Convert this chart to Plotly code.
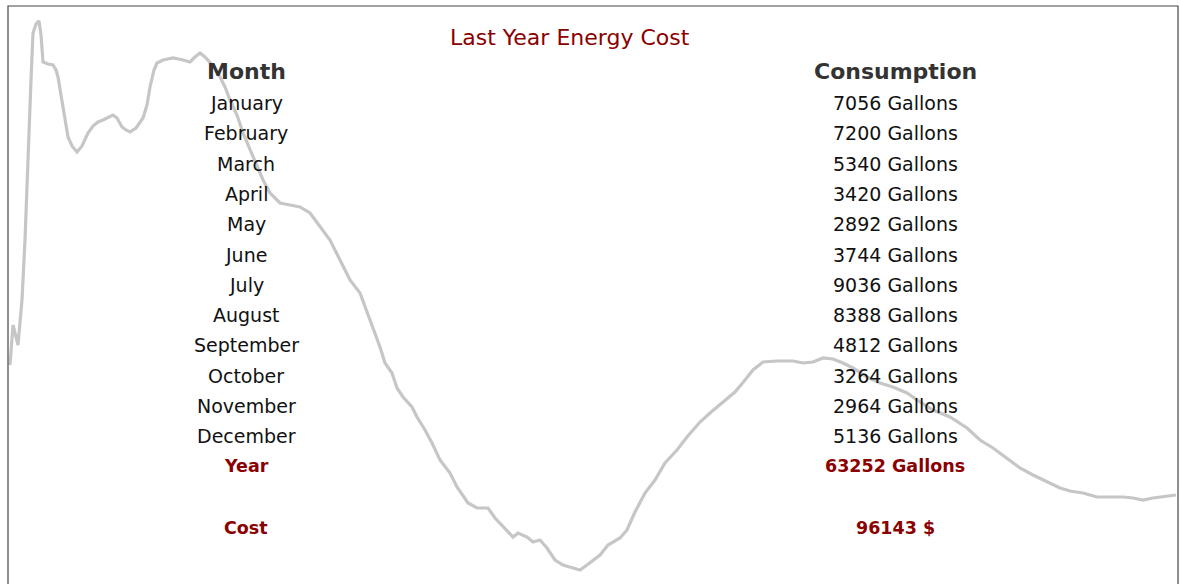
import plotly.graph_objects as go

# ---- data ----
title_text = "Last Year Energy Cost"
months = ["January", "February", "March", "April", "May", "June", "July",
          "August", "September", "October", "November", "December"]
consumption = [7056, 7200, 5340, 3420, 2892, 3744, 9036, 8388, 4812, 3264, 2964, 5136]
year_total = 63252
cost = 96143

# background trend line (index, level)
trend_x = [0, 3, 8, 12, 15, 18, 21, 23, 26, 29, 31, 33, 38, 43, 46, 48, 51, 53, 56, 58,
           62, 67, 72, 78, 83, 88, 93, 97, 103, 107, 112, 116, 120, 126, 133, 137, 140, 144,
           147, 153, 163, 173, 180, 185, 190, 195, 200, 205, 210, 215, 220, 227, 233, 240,
           247, 253, 260, 270, 280, 290, 300, 310, 320, 330, 340, 350, 360, 370, 375, 382,
           387, 393, 402, 407, 415, 422, 430, 440, 447, 458, 467, 478, 485, 497, 503, 508,
           517, 523, 530, 537, 545, 553, 563, 570, 577, 590, 598, 610, 617, 625, 635, 645,
           655, 667, 677, 690, 700, 713, 725, 735, 743, 753, 767, 783, 793, 803, 813, 823,
           833, 843, 857, 870, 883, 897, 910, 923, 940, 957, 970, 983, 997, 1010, 1023, 1037,
           1050, 1060, 1073, 1087, 1113, 1123, 1133, 1143, 1153, 1166]
trend_y = [219, 259, 239, 284, 344, 431, 504, 551, 560, 563, 549, 522, 520, 519, 514, 507,
           489, 474, 456, 447, 438, 432, 438, 451, 458, 462, 464, 466, 469, 466, 457, 454,
           452, 456, 466, 479, 497, 514, 521, 524, 526, 524, 522, 527, 531, 527, 522, 516,
           507, 497, 484, 469, 451, 434, 417, 404, 391, 381, 379, 377, 371, 357, 344, 324,
           304, 291, 264, 237, 221, 211, 196, 187, 177, 167, 154, 141, 124, 111, 97, 81,
           76, 76, 66, 54, 47, 51, 47, 42, 44, 36, 24, 19, 16, 14, 19, 29, 39, 46, 54, 72,
           91, 104, 121, 134, 147, 162, 171, 182, 192, 204, 214, 222, 223, 223, 221, 222,
           226, 225, 221, 216, 207, 201, 197, 191, 182, 174, 167, 156, 144, 136, 126, 116,
           109, 102, 96, 93, 91, 87, 87, 86, 84, 86, 87, 89]

# ---- figure ----
fig = go.Figure()
fig.add_trace(go.Scatter(
    x=trend_x, y=trend_y, mode="lines",
    line=dict(color="#c6c6c6", width=3.2),
    hoverinfo="skip", showlegend=False,
))

W, H = 1180, 584
ML, MR, MT, MB = 8, 2, 6, 0
PW, PH = W - ML - MR, H - MT - MB


def px(X):
    return (X - ML) / PW


def py(Y):
    return 1 - (Y - MT) / PH


FONT = "Verdana, DejaVu Sans, sans-serif"
DARKRED = "#8b0000"
ann = []
ann.append(dict(text=title_text, x=px(570), y=py(37),
                font=dict(family=FONT, size=22, color=DARKRED)))
col_month, col_cons = 246, 895
ann.append(dict(text="<b>Month</b>", x=px(col_month), y=py(72),
                font=dict(family=FONT, size=22, color="#333333")))
ann.append(dict(text="<b>Consumption</b>", x=px(col_cons), y=py(72),
                font=dict(family=FONT, size=22, color="#333333")))
row0, step = 103, 30.3
for i, (m, c) in enumerate(zip(months, consumption)):
    yy = row0 + i * step
    ann.append(dict(text=m, x=px(col_month), y=py(yy),
                    font=dict(family=FONT, size=19, color="#111111")))
    ann.append(dict(text=f"{c} Gallons", x=px(col_cons), y=py(yy),
                    font=dict(family=FONT, size=19, color="#111111")))
ann.append(dict(text="<b>Year</b>", x=px(col_month), y=py(466),
                font=dict(family=FONT, size=17.5, color=DARKRED)))
ann.append(dict(text=f"<b>{year_total} Gallons</b>", x=px(col_cons), y=py(466),
                font=dict(family=FONT, size=17.5, color=DARKRED)))
ann.append(dict(text="<b>Cost</b>", x=px(col_month), y=py(528),
                font=dict(family=FONT, size=17.5, color=DARKRED)))
ann.append(dict(text=f"<b>{cost} $</b>", x=px(col_cons), y=py(528),
                font=dict(family=FONT, size=17.5, color=DARKRED)))
for a in ann:
    a.update(xref="paper", yref="paper", showarrow=False,
             xanchor="center", yanchor="middle")

fig.update_layout(
    width=W, height=H,
    margin=dict(l=ML, r=MR, t=MT, b=MB),
    paper_bgcolor="white", plot_bgcolor="white",
    xaxis=dict(visible=False, range=[-2, 1168]),
    yaxis=dict(visible=False, range=[0, 578]),
    annotations=ann,
    shapes=[dict(type="rect", xref="paper", yref="paper", x0=0, x1=1, y0=-0.1, y1=1,
                 line=dict(color="#444444", width=1.2))],
    showlegend=False,
)
fig.write_html(
    "out.html",
    config={"displayModeBar": False},
    post_script="document.body.style.margin='0';document.body.style.overflow='hidden';",
)
